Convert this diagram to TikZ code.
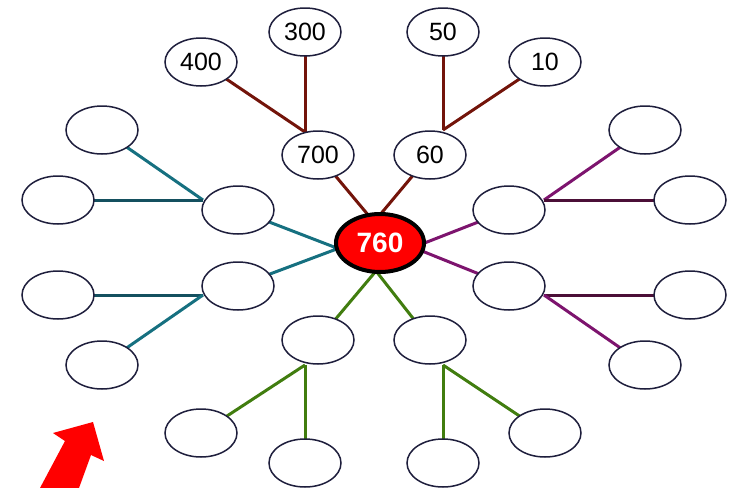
\documentclass[tikz,border=0pt]{standalone}
\usepackage{fontspec}
\setmainfont{Liberation Sans}
\usetikzlibrary{shapes.geometric,backgrounds}
\definecolor{brn}{RGB}{115,20,10}
\definecolor{tealc}{RGB}{22,112,128}
\definecolor{tealdk}{RGB}{20,80,95}
\definecolor{purp}{RGB}{125,20,110}
\definecolor{purpdk}{RGB}{75,15,55}
\definecolor{grn}{RGB}{65,125,15}
\definecolor{edge}{RGB}{30,30,60}
\definecolor{arrred}{RGB}{255,0,0}
\tikzset{
  oval/.style={ellipse, draw=edge, line width=0.75pt, fill=white, inner sep=0pt,
    minimum width=36pt, minimum height=24pt, font=\fontsize{12.5}{14}\selectfont},
  hub/.style={ellipse, draw=black, line width=2pt, fill=red, inner sep=0pt,
    minimum width=44pt, minimum height=29pt, text=white, font=\fontsize{14}{16}\selectfont\bfseries},
  link/.style={line width=1.5pt}
}
\begin{document}
\begin{tikzpicture}[x=0.5pt,y=-0.5pt]
\useasboundingbox (0,0) rectangle (730,488);
% nodes
\node[hub] (c) at (380,243) {760};
\node[oval] (t700) at (318,155) {700};
\node[oval] (t60) at (430,155) {60};
\node[oval] (t400) at (201,62) {400};
\node[oval] (t300) at (305,32) {300};
\node[oval] (t50) at (443,32) {50};
\node[oval] (t10) at (545,62) {10};
\node[oval] (L1) at (238,210) {};
\node[oval] (L2) at (238,286) {};
\node[oval] (LL1) at (102,130) {};
\node[oval] (LL2) at (58,200) {};
\node[oval] (LL3) at (58,295) {};
\node[oval] (LL4) at (102,365) {};
\node[oval] (R1) at (509,210) {};
\node[oval] (R2) at (509,286) {};
\node[oval] (RR1) at (645,130) {};
\node[oval] (RR2) at (690,200) {};
\node[oval] (RR3) at (690,295) {};
\node[oval] (RR4) at (645,365) {};
\node[oval] (B1) at (318,340) {};
\node[oval] (B2) at (430,340) {};
\node[oval] (BB1) at (201,433) {};
\node[oval] (BB2) at (305,463) {};
\node[oval] (BB3) at (443,463) {};
\node[oval] (BB4) at (545,433) {};
% join points
\coordinate (cN) at (374,222);
\coordinate (cS) at (376,271);
\coordinate (cW) at (338,248.5);
\coordinate (cE1) at (422,244);
\coordinate (cE2) at (422,251);
\coordinate (j700) at (305,132);
\coordinate (j60) at (443,130);
\coordinate (jL1) at (203,200);
\coordinate (jL2) at (203,295);
\coordinate (jR1) at (544,200);
\coordinate (jR2) at (544,295);
\coordinate (jB1) at (305,365);
\coordinate (jB2) at (443,365);
\begin{scope}[on background layer]
\draw[link,brn] (t700.center) -- (cN) -- (t60.center);
\draw[link,brn] (j700) -- (t400.center);
\draw[link,brn] (j700) -- (t300.center);
\draw[link,brn] (j60) -- (t50.center);
\draw[link,brn] (j60) -- (t10.center);
\draw[link,tealc] (L1.center) -- (cW) -- (L2.center);
\draw[link,tealc] (jL1) -- (LL1.center);
\draw[link,tealdk] (jL1) -- (LL2.center);
\draw[link,tealdk] (jL2) -- (LL3.center);
\draw[link,tealc] (jL2) -- (LL4.center);
\draw[link,purp] (R1.center) -- (cE1);
\draw[link,purp] (R2.center) -- (cE2);
\draw[link,purp] (jR1) -- (RR1.center);
\draw[link,purpdk] (jR1) -- (RR2.center);
\draw[link,purpdk] (jR2) -- (RR3.center);
\draw[link,purp] (jR2) -- (RR4.center);
\draw[link,grn] (B1.center) -- (cS) -- (B2.center);
\draw[link,grn] (jB1) -- (BB1.center);
\draw[link,grn] (jB1) -- (BB2.center);
\draw[link,grn] (jB2) -- (BB3.center);
\draw[link,grn] (jB2) -- (BB4.center);
\end{scope}
% red arrow
\fill[arrred] (93,422) -- (53,433) -- (65,441) -- (40,488) -- (79,488) -- (91,455) -- (104,461) -- cycle;
\end{tikzpicture}
\end{document}
